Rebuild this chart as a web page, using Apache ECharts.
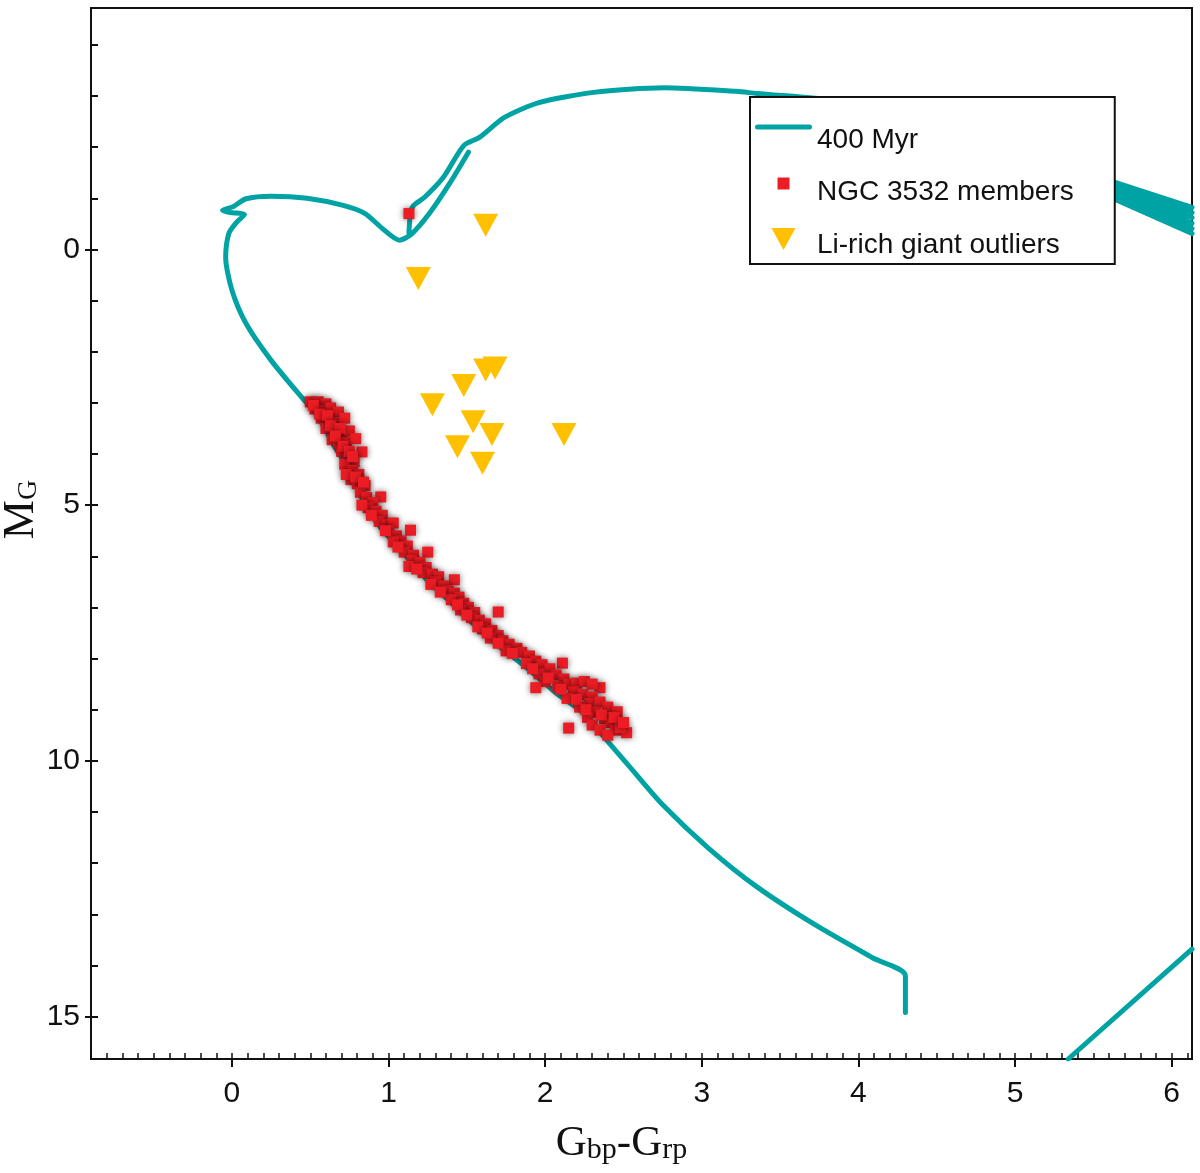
<!DOCTYPE html>
<html>
<head>
<meta charset="utf-8">
<script src="https://cdn.jsdelivr.net/npm/echarts@6/dist/echarts.min.js"></script>
<style>
  html, body { margin: 0; padding: 0; background: #fff; }
  #main { width: 1200px; height: 1173px; }
</style>
</head>
<body>
<div id="main"></div>
<script>
// isochrone 400 Myr, main sequence up to the red clump (colour, M_G)
var isoMain = [
	[4.30, 14.92], [4.30, 14.20], [4.09, 13.85], [3.72, 13.20], [3.35, 12.46], [3.04, 11.70],
	[2.75, 10.86], [2.54, 10.12], [2.38, 9.55], [2.24, 9.05], [2.08, 8.70], [1.89, 8.20],
	[1.69, 7.72], [1.54, 7.32], [1.37, 6.82], [1.25, 6.48], [1.07, 5.84], [0.95, 5.44],
	[0.84, 4.92], [0.74, 4.27], [0.66, 3.88], [0.54, 3.22], [0.45, 2.91], [0.25, 2.17],
	[0.09, 1.45], [0.00, 0.80], [-0.04, 0.16], [-0.02, -0.31], [0.03, -0.53], [0.08, -0.68],
	[-0.01, -0.72], [-0.06, -0.76], [0.01, -0.84], [0.09, -0.99], [0.25, -1.04], [0.48, -1.00],
	[0.71, -0.86], [0.85, -0.70], [0.96, -0.41], [1.07, -0.18], [1.15, -0.31], [1.26, -0.70],
	[1.39, -1.29], [1.51, -1.90]
];
// helium burning branch and AGB up to the legend
var isoHeB = [
	[1.13, -0.33], [1.14, -0.70], [1.16, -0.86], [1.23, -1.02], [1.35, -1.41], [1.48, -2.03],
	[1.58, -2.19], [1.74, -2.58], [1.96, -2.87], [2.31, -3.07], [2.76, -3.16], [3.22, -3.09],
	[3.35, -3.05], [3.90, -2.90], [4.50, -2.55], [5.10, -1.95], [5.55, -1.40]
];
// thermally pulsing AGB band at the right edge, and the piece in the lower right corner
var isoBand = [
	[5.55, -1.40], [6.13, -0.82], [5.55, -1.34], [6.13, -0.72], [5.55, -1.28], [6.13, -0.62],
	[5.55, -1.22], [6.13, -0.51], [5.55, -1.16], [6.13, -0.41], [5.55, -1.10], [6.13, -0.31]
];
var isoTail = [[5.34, 15.83], [6.13, 13.68]];

var members = [
	[1.13, -0.70],
	[0.50, 2.98], [0.55, 2.98], [0.60, 3.02], [0.53, 3.12], [0.58, 3.15], [0.63, 3.10], [0.68, 3.18],
	[0.57, 3.30], [0.62, 3.35], [0.67, 3.40], [0.72, 3.30], [0.60, 3.50], [0.65, 3.55], [0.70, 3.62],
	[0.75, 3.55], [0.64, 3.72], [0.68, 3.80], [0.73, 3.78], [0.79, 3.70], [0.83, 3.96], [0.70, 3.95],
	[0.74, 4.05], [0.78, 4.15], [0.72, 4.20], [0.77, 4.32], [0.81, 4.40], [0.76, 4.50], [0.80, 4.58],
	[0.85, 4.62], [0.82, 4.75], [0.86, 4.85], [0.95, 4.84], [0.90, 4.95], [0.87, 5.05], [0.92, 5.12],
	[0.96, 5.20], [0.94, 5.32], [0.99, 5.38], [1.03, 5.35], [1.00, 5.50], [1.05, 5.60], [1.14, 5.49],
	[1.08, 5.70], [1.03, 5.72], [1.12, 5.80], [1.10, 5.92], [1.16, 5.98], [1.25, 5.92], [1.15, 6.08],
	[1.20, 6.12], [1.24, 6.22], [1.22, 6.32], [1.28, 6.35], [1.32, 6.40], [1.30, 6.50], [1.42, 6.46],
	[1.35, 6.58], [1.38, 6.68], [1.42, 6.72], [1.45, 6.80], [1.40, 6.85], [1.48, 6.92], [1.51, 7.00],
	[1.46, 7.05], [1.55, 7.10], [1.70, 7.09], [1.53, 7.20], [1.58, 7.25], [1.62, 7.32], [1.60, 7.42],
	[1.66, 7.45], [1.70, 7.55], [1.65, 7.60], [1.73, 7.65], [1.77, 7.72], [1.82, 7.80], [1.75, 7.85],
	[1.85, 7.88], [1.90, 7.95], [1.94, 8.05], [1.88, 8.10], [1.98, 8.12], [2.11, 8.09], [2.03, 8.20],
	[1.96, 8.30], [2.07, 8.32], [2.12, 8.40], [2.00, 8.45], [1.94, 8.57], [2.08, 8.55], [2.15, 8.50],
	[2.20, 8.48], [2.25, 8.45], [2.35, 8.57], [2.30, 8.50], [2.18, 8.65], [2.24, 8.70], [2.30, 8.75],
	[2.14, 8.78], [2.28, 8.88], [2.35, 8.85], [2.22, 8.95], [2.40, 8.95], [2.46, 9.04], [2.32, 9.05],
	[2.27, 9.15], [2.38, 9.18], [2.42, 9.25], [2.15, 9.36], [2.30, 9.30], [2.35, 9.40], [2.45, 9.40],
	[2.52, 9.45], [2.40, 9.50], [2.48, 9.35],
	[0.52, 3.05], [0.56, 3.22], [0.61, 3.25], [0.63, 3.45], [0.69, 3.50], [0.66, 3.65], [0.71, 3.85],
	[0.75, 3.95], [0.77, 4.05], [0.73, 4.40], [0.79, 4.45], [0.84, 4.55], [0.83, 5.00], [0.89, 5.20],
	[0.98, 5.50], [1.06, 5.82], [1.13, 6.20], [1.18, 6.25], [1.27, 6.55], [1.33, 6.70], [1.44, 6.95],
	[1.50, 7.15], [1.57, 7.38], [1.63, 7.50], [1.70, 7.70], [1.79, 7.90], [1.92, 8.20], [2.02, 8.38],
	[2.10, 8.60], [2.20, 8.80], [2.26, 9.00], [2.36, 9.10], [2.44, 9.15], [2.50, 9.25]
];

var liRich = [
	[1.62, -0.47], [1.19, 0.57], [1.48, 2.66], [1.62, 2.36], [1.68, 2.32], [1.28, 3.04],
	[1.54, 3.37], [1.66, 3.62], [1.44, 3.86], [1.60, 4.18], [2.12, 3.62]
];

var xTicks = [0, 1, 2, 3, 4, 5, 6];
var yTicks = [-4, -3, -2, -1, 0, 1, 2, 3, 4, 5, 6, 7, 8, 9, 10, 11, 12, 13, 14, 15];
var yLabels = [0, 5, 10, 15];

var teal = '#00a3a4';
var ink = '#111';

// legend icons drawn in a 57x34 box so they sit a bit above the text like the original
var iconLine = 'path://M0,0M57,34M2.5,1.5L54.5,1.5A2.5,2.5,0,0,1,54.5,6.5L2.5,6.5A2.5,2.5,0,0,1,2.5,1.5Z';
var iconSquare = 'path://M0,0M57,34M22.5,2L34.5,2L34.5,14L22.5,14Z';
var iconTriangle = 'path://M0,0M57,34M16.5,0L40.5,0L28.5,22Z';

// smooth pieces, broken with '-' between them
var isoSmooth = isoMain.concat([['-', '-']], isoHeB);
var isoStraight = isoBand.concat([['-', '-']], isoTail);

var isoLine = { color: teal, width: 5, cap: 'round', join: 'round' };

var chart = echarts.init(document.getElementById('main'));
chart.setOption({
	animation: false,
	backgroundColor: '#fff',
	grid: {
		left: 91, right: 8, top: 8, bottom: 114,
		containLabel: false, outerBoundsMode: 'none',
		show: true, borderColor: ink, borderWidth: 2
	},
	legend: {
		orient: 'vertical',
		left: 750, top: 97,
		itemWidth: 57, itemHeight: 34, itemGap: 18.5,
		padding: [26, 41, 2, 5],
		backgroundColor: '#fff',
		borderColor: ink, borderWidth: 2,
		textStyle: { fontFamily: 'Liberation Sans', fontSize: 28, color: ink },
		data: [
			{ name: '400 Myr', icon: iconLine },
			{ name: 'NGC 3532 members', icon: iconSquare },
			{ name: 'Li-rich giant outliers', icon: iconTriangle }
		]
	},
	xAxis: [{
		type: 'value', min: -0.9, max: 6.13, position: 'bottom',
		axisLine: { onZero: false, lineStyle: { color: ink, width: 2 } },
		axisTick: { customValues: xTicks, inside: false, length: 8, lineStyle: { color: ink, width: 2 } },
		axisLabel: { customValues: xTicks, fontFamily: 'Liberation Sans', fontSize: 30, color: ink, margin: 20 },
		splitLine: { show: false },
		name: '{g|G}{s|bp}{g|-G}{s|rp}',
		nameLocation: 'middle', nameGap: 62, nameMoveOverlap: false,
		nameTextStyle: {
			padding: [0, 40, 0, 0],
			rich: {
				g: { fontFamily: 'Liberation Serif', fontSize: 43, color: ink, verticalAlign: 'bottom', lineHeight: 44 },
				s: { fontFamily: 'Liberation Serif', fontSize: 30, color: ink, verticalAlign: 'bottom', lineHeight: 34 }
			}
		}
	}, {
		type: 'value', min: -0.9, max: 6.13, interval: 0.1, position: 'bottom',
		axisLine: { show: false, onZero: false },
		axisTick: { inside: true, length: 6, lineStyle: { color: ink, width: 1.5 } },
		axisLabel: { show: false },
		splitLine: { show: false }
	}],
	yAxis: [{
		type: 'value', inverse: true, min: -4.72, max: 15.83, position: 'left',
		axisLine: { onZero: false, lineStyle: { color: ink, width: 2 } },
		axisTick: { customValues: yTicks, inside: true, length: 7, lineStyle: { color: ink, width: 2 } },
		axisLabel: { customValues: yLabels, fontFamily: 'Liberation Sans', fontSize: 30, color: ink, margin: 11 },
		splitLine: { show: false },
		name: '{m|M}{s|G}',
		nameLocation: 'middle', nameRotate: 90, nameGap: 48, nameMoveOverlap: false,
		nameTextStyle: {
			padding: [0, 0, 0, 48],
			rich: {
				m: { fontFamily: 'Liberation Serif', fontSize: 44, color: ink, verticalAlign: 'bottom', lineHeight: 46 },
				s: { fontFamily: 'Liberation Serif', fontSize: 28, color: ink, verticalAlign: 'bottom', lineHeight: 32 }
			}
		}
	}, {
		type: 'value', inverse: true, min: -4.72, max: 15.83, position: 'left',
		axisLine: { show: false, onZero: false },
		axisTick: { customValues: yLabels, inside: false, length: 6, lineStyle: { color: ink, width: 2 } },
		axisLabel: { show: false },
		splitLine: { show: false }
	}],
	series: [{
		name: '400 Myr',
		type: 'line',
		data: isoSmooth,
		symbol: 'none',
		smooth: 0.25,
		connectNulls: false,
		lineStyle: isoLine,
		itemStyle: { color: teal },
		z: 2
	}, {
		name: '400 Myr',
		type: 'line',
		data: isoStraight,
		symbol: 'none',
		connectNulls: false,
		lineStyle: isoLine,
		itemStyle: { color: teal },
		z: 2
	}, {
		name: 'NGC 3532 members',
		type: 'scatter',
		data: members,
		symbol: 'rect',
		symbolSize: 11,
		itemStyle: {
			color: '#ec1c24', opacity: 1,
			shadowBlur: 6, shadowColor: 'rgba(30,0,0,0.6)'
		},
		z: 3
	}, {
		name: 'Li-rich giant outliers',
		type: 'scatter',
		data: liRich,
		symbol: 'triangle',
		symbolRotate: 180,
		symbolSize: [25, 23],
		itemStyle: { color: '#ffc000', opacity: 1 },
		z: 3
	}]
});
</script>
</body>
</html>
